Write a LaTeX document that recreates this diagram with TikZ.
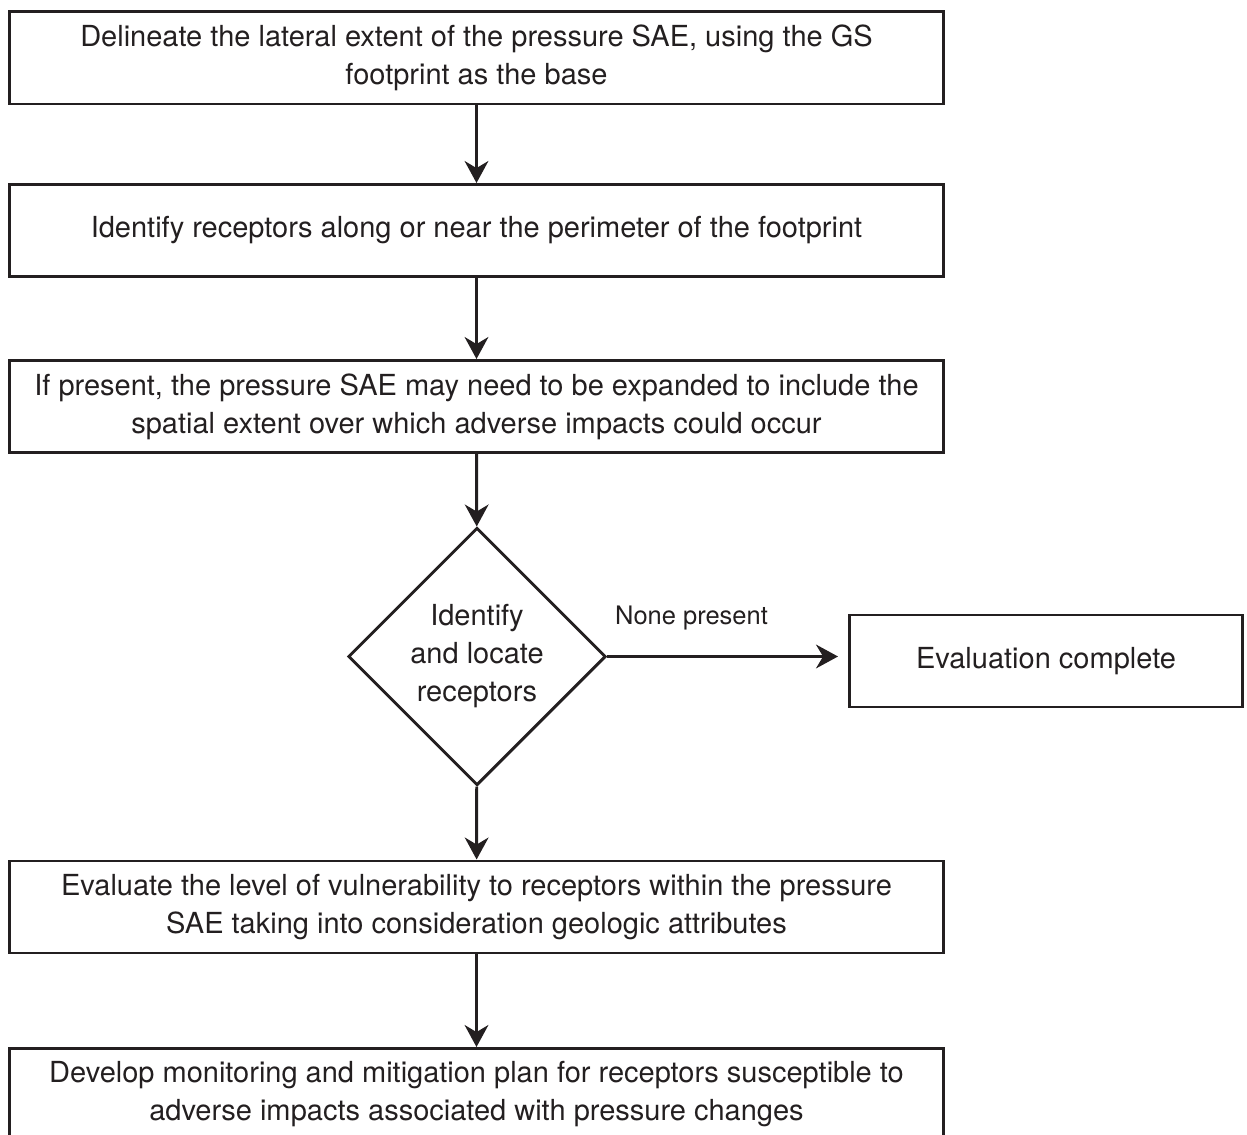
\documentclass[tikz,border=0pt]{standalone}
\usepackage{fontspec}
\setmainfont{TeX Gyre Heros}
\usetikzlibrary{shapes.geometric,arrows.meta}
\definecolor{ink}{RGB}{35,31,32}

\begin{document}
\begin{tikzpicture}
\tikzset{every node/.style={font=\fontsize{16.5}{21.6}\selectfont, text=ink},
    procbox/.style={draw=ink, line width=1.7pt, rectangle, minimum width=18.68cm, minimum height=1.84cm, align=center, inner sep=0pt},
    endbox/.style={draw=ink, line width=1.7pt, rectangle, minimum width=7.86cm, minimum height=1.84cm, align=center},
    decision/.style={draw=ink, line width=1.7pt, diamond, aspect=1, minimum width=5.15cm, minimum height=5.15cm, align=center, inner sep=0pt},
    flow/.style={draw=ink, line width=1.7pt, -{Stealth[length=12.5pt, width=13.5pt, inset=4pt]}}}
    \useasboundingbox (0, 0) rectangle (24.94, -22.70);

    \node[procbox] (lateral) at (9.53, -1.16) {Delineate the lateral extent of the pressure SAE, using the GS\\footprint as the base};
    \node[procbox] (perim) at (9.53, -4.61) {Identify receptors along or near the perimeter of the footprint};
    \node[procbox] (expand) at (9.53, -8.13) {If present, the pressure SAE may need to be expanded to include the\\spatial extent over which adverse impacts could occur};
    \node[decision] (locate) at (9.54, -13.13) {Identify\\and locate\\receptors};
    \node[endbox] (done) at (20.92, -13.22) {Evaluation complete};
    \node[procbox] (vuln) at (9.53, -18.14) {Evaluate the level of vulnerability to receptors within the pressure\\SAE taking into consideration geologic attributes};
    \node[procbox] (plan) at (9.53, -21.89) {Develop monitoring and mitigation plan for receptors susceptible to\\adverse impacts associated with pressure changes};

    \draw[flow] (lateral) -- (perim);
    \draw[flow] (perim) -- (expand);
    \draw[flow] (expand) -- (locate);
    \draw[flow] (locate) -- (vuln);
    \draw[flow] (vuln) -- (plan);
    \draw[flow, shorten >=0.2cm] (locate.east) -- node[pos=0.35, anchor=base, yshift=0.64cm, font=\fontsize{14.5}{17}\selectfont]{None present} (locate.east -| done.west);
\end{tikzpicture}
\end{document}
